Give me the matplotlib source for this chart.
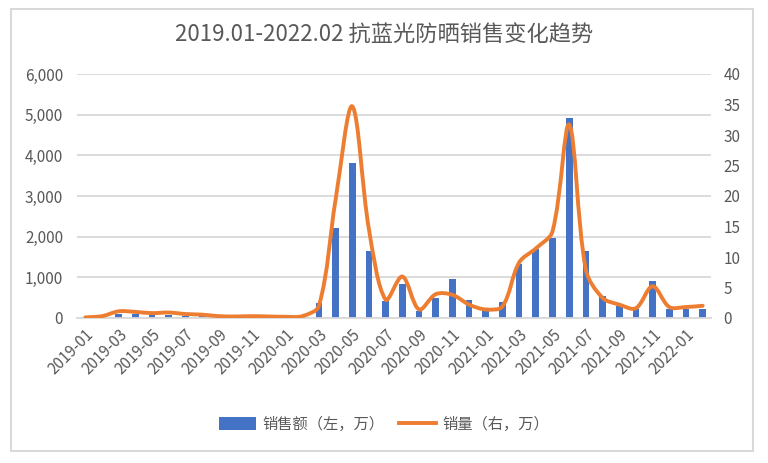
import matplotlib

matplotlib.use("Agg")
import matplotlib.pyplot as plt  # noqa: E402
import numpy as np  # noqa: E402
from matplotlib.patches import PathPatch, Rectangle  # noqa: E402
from matplotlib.path import Path  # noqa: E402
from matplotlib.lines import Line2D  # noqa: E402
from matplotlib.ticker import FuncFormatter, MultipleLocator  # noqa: E402

plt.rcParams["font.family"] = ["Noto Sans CJK SC", "DejaVu Sans"]

TITLE = "2019.01-2022.02 抗蓝光防晒销售变化趋势"

months = [f"{y}-{m:02d}" for y in (2019, 2020, 2021) for m in range(1, 13)] + [
    "2022-01",
    "2022-02",
]

# 销售额（左轴，万）
sales_amount = [
    10, 20, 100, 100, 70, 80, 60, 40, 25, 20, 25, 20,
    20, 30, 360, 2210, 3800, 1650, 410, 830, 160, 480, 950, 450,
    250, 390, 1320, 1690, 1960, 4920, 1640, 550, 290, 230, 900, 210,
    220, 230,
]

# 销量（右轴，万）
sales_volume = [
    0.1, 0.3, 1.1, 1.0, 0.8, 0.9, 0.65, 0.55, 0.3, 0.25, 0.3, 0.25,
    0.2, 0.3, 2.0, 19.4, 34.7, 14.5, 3.0, 6.8, 1.4, 3.9, 3.8, 2.2,
    1.4, 1.9, 9.1, 11.4, 14.2, 31.7, 7.9, 3.3, 2.2, 1.6, 5.2, 1.8,
    1.8, 2.0,
]

BAR_COLOR = "#4472C4"
LINE_COLOR = "#ED7D31"
TEXT_COLOR = "#595959"
GRID_COLOR = "#D9D9D9"


def smooth_path(ax, xs, ys):
    # smoothed line built in pixel space; tangents scaled by chord length
    # so steep rises do not overshoot below neighbouring points
    trans = ax.transData
    pts = trans.transform(np.column_stack([xs, ys]).astype(float))
    n = len(pts)
    verts = [pts[0]]
    codes = [Path.MOVETO]

    def ctrl(a, b, c, seg):
        d1 = np.hypot(*(b - a))
        d2 = np.hypot(*(c - b))
        if d1 + d2 == 0:
            return np.zeros(2)
        return (c - a) * seg / (d1 + d2) / 3.0

    for i in range(n - 1):
        p0 = pts[max(i - 1, 0)]
        p1 = pts[i]
        p2 = pts[i + 1]
        p3 = pts[min(i + 2, n - 1)]
        seg = np.hypot(*(p2 - p1))
        c1 = p1 + ctrl(p0, p1, p2, seg)
        c2 = p2 - ctrl(p1, p2, p3, seg)
        verts.extend([c1, c2, p2])
        codes.extend([Path.CURVE4] * 3)
    verts = trans.inverted().transform(np.array(verts))
    return Path(verts, codes)


fig = plt.figure(figsize=(7.68, 4.63), dpi=100)
ax = fig.add_axes([77 / 768, 1 - 318 / 463, (711 - 77) / 768, (318 - 74) / 463])
ax2 = ax.twinx()

x = np.arange(len(months))
ax.bar(x, sales_amount, width=0.4, color=BAR_COLOR, zorder=2)
ax.set_xlim(-0.5, len(months) - 0.5)
ax.set_ylim(0, 6000)
ax.yaxis.set_major_locator(MultipleLocator(1000))
ax.yaxis.set_major_formatter(FuncFormatter(lambda v, _: f"{v:,.0f}"))
ax.grid(axis="y", color=GRID_COLOR, linewidth=1.3, zorder=0)
ax.set_axisbelow(True)

ax2.set_xlim(-0.5, len(months) - 0.5)
ax2.set_ylim(0, 40)
ax2.yaxis.set_major_locator(MultipleLocator(5))
ax2.add_patch(
    PathPatch(
        smooth_path(ax2, x, sales_volume),
        facecolor="none",
        edgecolor=LINE_COLOR,
        linewidth=2.8,
        capstyle="round",
        joinstyle="round",
        zorder=3,
    )
)

for a in (ax, ax2):
    for side in ("top", "left", "right"):
        a.spines[side].set_visible(False)
    a.tick_params(length=0, labelsize=11, labelcolor=TEXT_COLOR)
ax2.spines["bottom"].set_visible(False)
ax.spines["bottom"].set_color(GRID_COLOR)
ax.spines["bottom"].set_linewidth(1.3)
ax.tick_params(axis="y", pad=10)
ax2.tick_params(axis="y", pad=9)

ax.set_xticks(x[::2])
ax.set_xticklabels(
    months[::2], rotation=45, ha="right", rotation_mode="anchor", fontsize=11
)
ax.tick_params(axis="x", pad=6)

fig.text(0.5, 1 - 35 / 463, TITLE, ha="center", va="center", fontsize=16,
         color=TEXT_COLOR)

handles = [
    Rectangle((0, 0), 1, 1, facecolor=BAR_COLOR),
    Line2D([0], [0], color=LINE_COLOR, linewidth=2.8),
]
fig.legend(
    handles,
    ["销售额（左，万）", "销量（右，万）"],
    loc="center",
    bbox_to_anchor=(0.5, 1 - 424 / 463),
    ncol=2,
    frameon=False,
    fontsize=11,
    labelcolor=TEXT_COLOR,
    handlelength=2.4,
    handleheight=0.9,
    columnspacing=1.0,
    handletextpad=0.4,
)

fig.add_artist(
    Rectangle(
        (11 / 768, 1 - 451 / 463),
        (753 - 11) / 768,
        (451 - 9) / 463,
        transform=fig.transFigure,
        facecolor="none",
        edgecolor=GRID_COLOR,
        linewidth=1.5,
    )
)

fig.savefig("out.png", dpi=100)
